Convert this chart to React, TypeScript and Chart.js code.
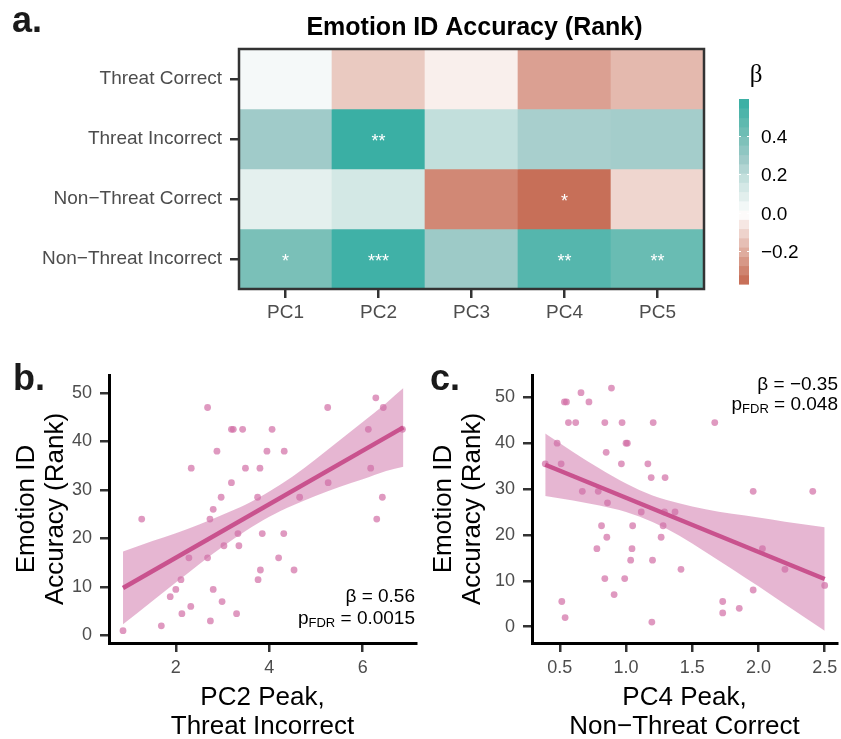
import React, { useEffect, useRef } from 'react';
import { Chart, registerables } from 'chart.js';

Chart.register(...registerables);

const FONT = '"Liberation Sans", Arial, Helvetica, sans-serif';
Chart.defaults.font.family = FONT;

// ---------- Panel a: heatmap data ----------
const pcLabels = ['PC1', 'PC2', 'PC3', 'PC4', 'PC5'];
const rowLabels = ['Threat Correct', 'Threat Incorrect', 'Non\u2212Threat Correct', 'Non\u2212Threat Incorrect'];
const betaThreatCorrect = [0.03, -0.13, -0.04, -0.23, -0.17];
const betaThreatIncorrect = [0.28, 0.58, 0.19, 0.26, 0.27];
const betaNonThreatCorrect = [0.08, 0.14, -0.29, -0.35, -0.1];
const betaNonThreatIncorrect = [0.39, 0.56, 0.29, 0.5, 0.44];
const starsThreatCorrect = ['', '', '', '', ''];
const starsThreatIncorrect = ['', '**', '', '', ''];
const starsNonThreatCorrect = ['', '', '', '*', ''];
const starsNonThreatIncorrect = ['*', '***', '', '**', '**'];
const legendTicks = [0.4, 0.2, 0, -0.2];
const legendMin = -0.372;
const legendMax = 0.594;

// ---------- Panel b data ----------
const bPeak = [0.87, 1.27, 1.69, 1.88, 2.0, 2.11, 2.13, 2.28, 2.32, 2.33, 2.68, 2.68, 2.73, 2.74, 2.8, 2.8, 2.88, 2.97, 2.99, 3.03, 3.19, 3.19, 3.23, 3.3, 3.33, 3.35, 3.43, 3.49, 3.75, 3.76, 3.8, 3.81, 3.85, 3.95, 4.06, 4.2, 4.31, 4.32, 4.53, 4.65, 5.25, 5.26, 6.12, 6.17, 6.28, 6.3, 6.42, 6.44, 6.85];
const bRank = [1, 24, 2, 8, 9.5, 11.5, 4.5, 16, 6, 34.5, 47, 16, 24, 3, 9.5, 26, 38, 28.5, 7, 18.5, 31.5, 42.5, 42.5, 4.5, 21, 18.5, 42.5, 34.5, 28.5, 11.5, 34.5, 13.5, 21, 38, 42.5, 16, 21, 38, 13.5, 28.5, 47, 31.5, 42.5, 34.5, 49, 24, 28.5, 47, 42.5];
const bFitX = [0.87, 6.87];
const bFitY = [9.8, 42.9];
const bBandX = [0.87, 1.5, 2.0, 2.5, 3.0, 3.5, 4.0, 4.5, 5.0, 5.5, 6.0, 6.5, 6.87];
const bBandLo = [2.3, 7.1, 10.9, 14.7, 18.3, 21.6, 24.5, 26.8, 28.8, 30.6, 32.2, 33.9, 34.8];
const bBandHi = [17.3, 19.5, 21.1, 22.9, 24.9, 27.0, 29.7, 32.8, 36.4, 40.2, 44.0, 47.9, 51.0];
const bXTicks = [2, 4, 6];

// ---------- Panel c data ----------
const cPeak = [0.39, 0.48, 0.51, 0.515, 0.54, 0.535, 0.55, 0.565, 0.62, 0.66, 0.67, 0.72, 0.78, 0.79, 0.815, 0.84, 0.84, 0.85, 0.855, 0.86, 0.89, 0.91, 0.965, 0.97, 0.99, 1.0, 1.01, 1.035, 1.045, 1.05, 1.115, 1.165, 1.19, 1.2, 1.195, 1.205, 1.265, 1.28, 1.29, 1.295, 1.37, 1.415, 1.67, 1.73, 1.73, 1.855, 1.96, 1.96, 2.03, 2.2, 2.41, 2.5];
const cRank = [35.5, 40, 35.5, 5.5, 2, 49, 49, 44.5, 44.5, 51, 29.5, 49, 17, 29.5, 22, 10.5, 44.5, 38, 19.5, 27, 52, 7, 35.5, 44.5, 10.5, 40, 40, 14.5, 17, 22, 25, 35.5, 32.5, 14.5, 1, 44.5, 19.5, 22, 25, 32.5, 25, 12.5, 44.5, 5.5, 3, 4, 29.5, 8, 17, 12.5, 29.5, 9];
const cFitX = [0.39, 2.5];
const cFitY = [35.3, 10.4];
const cBandX = [0.39, 0.6, 0.8, 1.0, 1.2, 1.4, 1.6, 1.8, 2.0, 2.2, 2.5];
const cBandLo = [28.5, 27.5, 26.4, 25.0, 22.8, 19.9, 16.3, 12.6, 8.8, 4.9, -0.9];
const cBandHi = [42.1, 38.1, 34.5, 31.2, 28.6, 26.9, 25.6, 24.6, 23.8, 22.9, 21.7];
const cXTicks = [0.5, 1.0, 1.5, 2.0, 2.5];
const yTicks = [0, 10, 20, 30, 40, 50];

// ---------- styles ----------
const colorStops: [number, number[]][] = [
  [-0.372, [196, 102, 78]],
  [0, [255, 255, 255]],
  [0.08, [228, 240, 238]],
  [0.16, [205, 229, 226]],
  [0.28, [160, 203, 201]],
  [0.39, [122, 192, 184]],
  [0.594, [53, 174, 163]],
];
function betaColor(v: number): string {
  if (v <= colorStops[0][0]) return `rgb(${colorStops[0][1].join(',')})`;
  for (let i = 1; i < colorStops.length; i++) {
    const [v1, c1] = colorStops[i];
    const [v0, c0] = colorStops[i - 1];
    if (v <= v1) {
      const t = (v - v0) / (v1 - v0);
      const c = c0.map((a, k) => Math.round(a + (c1[k] - a) * t));
      return `rgb(${c.join(',')})`;
    }
  }
  return `rgb(${colorStops[colorStops.length - 1][1].join(',')})`;
}
const fmtBeta = (v: number) => v.toFixed(1).replace('-', '\u2212');

const LINE = 'rgb(201,82,142)';
const BAND = 'rgba(205,110,165,0.5)';
const PT = 'rgba(210,110,165,0.7)';
const TICK_GRAY = '#4d4d4d';

// ---------- heatmap ----------
function heatmapConfig(): any {
  const rows = [betaThreatCorrect, betaThreatIncorrect, betaNonThreatCorrect, betaNonThreatIncorrect];
  const stars = [starsThreatCorrect, starsThreatIncorrect, starsNonThreatCorrect, starsNonThreatIncorrect];
  const datasets = rows.map((vals, r) => ({
    data: vals.map(() => [r - 0.5, r + 0.5]),
    backgroundColor: vals.map(betaColor),
    borderWidth: 0,
    barPercentage: 1,
    categoryPercentage: 1,
    grouped: false,
  }));
  const gridStyle = { drawOnChartArea: false, drawTicks: true, tickLength: 9, color: '#333', lineWidth: 2.5 };
  const plugin = {
    id: 'heatDecor',
    afterDraw(chart: any) {
      const { ctx, chartArea: a, scales } = chart;
      ctx.save();
      // stars
      ctx.fillStyle = '#ffffff';
      ctx.font = `18px ${FONT}`;
      ctx.textAlign = 'center';
      ctx.textBaseline = 'middle';
      stars.forEach((row, r) => row.forEach((s, c) => {
        if (!s) return;
        ctx.fillText(s, scales.x.getPixelForValue(c), scales.y.getPixelForValue(r) + 3);
      }));
      // border
      ctx.strokeStyle = '#333';
      ctx.lineWidth = 2.5;
      ctx.strokeRect(a.left, a.top, a.right - a.left, a.bottom - a.top);
      // title
      ctx.fillStyle = '#000';
      ctx.font = `bold 25px ${FONT}`;
      ctx.textAlign = 'center';
      ctx.textBaseline = 'alphabetic';
      ctx.fillText('Emotion ID Accuracy (Rank)', (a.left + a.right) / 2 + 3, 35);
      // panel letter
      ctx.textAlign = 'left';
      ctx.font = `bold 36px ${FONT}`;
      ctx.fillStyle = '#1a1a1a';
      ctx.fillText('a.', 12, 32);
      // colour bar
      const cbL = 739, cbR = 749, cbT = 99, cbB = 284;
      const yOf = (v: number) => cbB - (v - legendMin) / (legendMax - legendMin) * (cbB - cbT);
      const nbin = 20;
      for (let i = 0; i < nbin; i++) {
        const v0 = legendMin + (legendMax - legendMin) * i / nbin;
        const v1 = legendMin + (legendMax - legendMin) * (i + 1) / nbin;
        ctx.fillStyle = betaColor((v0 + v1) / 2);
        const y0 = yOf(v0), y1 = yOf(v1);
        ctx.fillRect(cbL, y1, cbR - cbL, y0 - y1 + 0.6);
      }
      ctx.strokeStyle = '#ffffff';
      ctx.lineWidth = 1;
      ctx.fillStyle = '#000';
      ctx.font = `19px ${FONT}`;
      ctx.textBaseline = 'middle';
      legendTicks.forEach((v) => {
        const y = Math.round(yOf(v)) + 0.5;
        ctx.beginPath();
        ctx.moveTo(cbL, y); ctx.lineTo(cbL + 2, y);
        ctx.moveTo(cbR - 2, y); ctx.lineTo(cbR, y);
        ctx.stroke();
        ctx.fillText(fmtBeta(v), 761, y + 1);
      });
      ctx.font = '25px "Liberation Serif", "DejaVu Serif", serif';
      ctx.textAlign = 'center';
      ctx.textBaseline = 'alphabetic';
      ctx.fillText('\u03b2', 756, 82);
      ctx.restore();
    },
  };
  return {
    type: 'bar',
    data: { labels: pcLabels, datasets },
    plugins: [plugin],
    options: {
      responsive: false,
      animation: false,
      events: [],
      layout: { padding: { left: 0, right: 137, top: 49, bottom: 0 } },
      plugins: { legend: { display: false }, tooltip: { enabled: false } },
      scales: {
        x: {
          type: 'category',
          offset: true,
          grid: { ...gridStyle, offset: false },
          border: { display: false },
          ticks: { font: { size: 19 }, color: TICK_GRAY, padding: 3 },
          afterFit: (s: any) => { s.height = 41; s.paddingLeft = 0; s.paddingRight = 0; },
        },
        y: {
          type: 'linear',
          min: -0.5,
          max: 3.5,
          reverse: true,
          afterBuildTicks: (s: any) => { s.ticks = rowLabels.map((_, i) => ({ value: i })); },
          grid: gridStyle,
          border: { display: false },
          ticks: { callback: (v: any) => rowLabels[Math.round(Number(v))], font: { size: 19 }, color: TICK_GRAY, padding: 8, autoSkip: false },
          afterFit: (s: any) => { s.width = 239; s.paddingTop = 0; s.paddingBottom = 0; },
        },
      },
    },
  };
}

// ---------- scatter panels ----------
type Panel = {
  letter: string; letterX: number;
  x: number[]; y: number[];
  fitX: number[]; fitY: number[];
  bandX: number[]; bandLo: number[]; bandHi: number[];
  xTicks: number[]; xFmt: (v: number) => string; xTitle: string[];
  xMin: number; xMax: number; yMin: number; yMax: number;
  yWidth: number; padRight: number; yTitlePad: number;
  beta: string; p: string; statRight: number; base1: number; base2: number;
};

const panelB: Panel = {
  letter: 'b.', letterX: 13,
  x: bPeak, y: bRank, fitX: bFitX, fitY: bFitY,
  bandX: bBandX, bandLo: bBandLo, bandHi: bBandHi,
  xTicks: bXTicks, xFmt: (v) => String(v), xTitle: ['PC2 Peak,', 'Threat Incorrect'],
  xMin: 0.57, xMax: 7.14, yMin: -1.55, yMax: 53.7,
  yWidth: 109, padRight: 4, yTitlePad: 13,
  beta: '0.56', p: '0.0015', statRight: 415, base1: 272, base2: 294,
};

const panelC: Panel = {
  letter: 'c.', letterX: 10,
  x: cPeak, y: cRank, fitX: cFitX, fitY: cFitY,
  bandX: cBandX, bandLo: cBandLo, bandHi: cBandHi,
  xTicks: cXTicks, xFmt: (v) => v.toFixed(1), xTitle: ['PC4 Peak,', 'Non\u2212Threat Correct'],
  xMin: 0.29, xMax: 2.593, yMin: -3.55, yMax: 54.86,
  yWidth: 112, padRight: 2, yTitlePad: 10,
  beta: '\u22120.35', p: '0.048', statRight: 418, base1: 60, base2: 80,
};

function scatterConfig(P: Panel): any {
  const gridStyle = { drawOnChartArea: false, drawTicks: true, tickLength: 9, color: '#333', lineWidth: 2.5 };
  const plugin = {
    id: 'scatterDecor',
    afterDraw(chart: any) {
      const { ctx } = chart;
      ctx.save();
      ctx.fillStyle = '#1a1a1a';
      ctx.font = `bold 36px ${FONT}`;
      ctx.textAlign = 'left';
      ctx.textBaseline = 'alphabetic';
      ctx.fillText(P.letter, P.letterX, 60);
      ctx.fillStyle = '#000';
      ctx.font = `19px ${FONT}`;
      const l1 = `\u03b2 = ${P.beta}`;
      ctx.fillText(l1, P.statRight - ctx.measureText(l1).width, P.base1);
      const main = ` = ${P.p}`;
      const wp = ctx.measureText('p').width;
      const wm = ctx.measureText(main).width;
      ctx.font = `13px ${FONT}`;
      const ws = ctx.measureText('FDR').width;
      const x0 = P.statRight - (wp + ws + wm);
      ctx.fillText('FDR', x0 + wp, P.base2 + 3);
      ctx.font = `19px ${FONT}`;
      ctx.fillText('p', x0, P.base2);
      ctx.fillText(main, x0 + wp + ws, P.base2);
      ctx.restore();
    },
  };
  return {
    type: 'scatter',
    data: {
      datasets: [
        { data: P.fitX.map((x, i) => ({ x, y: P.fitY[i] })), showLine: true, borderColor: LINE, borderWidth: 4.5, pointRadius: 0, fill: false },
        { data: P.bandX.map((x, i) => ({ x, y: P.bandHi[i] })), showLine: true, borderColor: 'rgba(0,0,0,0)', borderWidth: 0, pointRadius: 0, fill: 2, backgroundColor: BAND, cubicInterpolationMode: 'monotone' },
        { data: P.bandX.map((x, i) => ({ x, y: P.bandLo[i] })), showLine: true, borderColor: 'rgba(0,0,0,0)', borderWidth: 0, pointRadius: 0, fill: false, cubicInterpolationMode: 'monotone' },
        { data: P.x.map((x, i) => ({ x, y: P.y[i] })), showLine: false, pointRadius: 3.4, backgroundColor: PT, borderColor: PT, borderWidth: 0 },
      ],
    },
    plugins: [plugin],
    options: {
      responsive: false,
      animation: false,
      events: [],
      layout: { padding: { left: 0, right: P.padRight, top: 45, bottom: 0 } },
      plugins: { legend: { display: false }, tooltip: { enabled: false } },
      scales: {
        x: {
          type: 'linear',
          min: P.xMin,
          max: P.xMax,
          afterBuildTicks: (s: any) => { s.ticks = P.xTicks.map((v) => ({ value: v })); },
          ticks: { callback: (v: any) => P.xFmt(Number(v)), font: { size: 18 }, color: TICK_GRAY, padding: 5, autoSkip: false, maxRotation: 0 },
          grid: gridStyle,
          border: { display: true, color: '#000', width: 3 },
          title: { display: true, text: P.xTitle, color: '#000', font: { size: 26, lineHeight: 1.1 }, padding: { top: 0, bottom: -2 } },
          afterFit: (s: any) => { s.height = 96; s.paddingLeft = 0; s.paddingRight = 0; },
        },
        y: {
          type: 'linear',
          min: P.yMin,
          max: P.yMax,
          afterBuildTicks: (s: any) => { s.ticks = yTicks.map((v) => ({ value: v })); },
          ticks: { font: { size: 18 }, color: TICK_GRAY, padding: 8, autoSkip: false },
          grid: gridStyle,
          border: { display: true, color: '#000', width: 3 },
          title: { display: true, text: ['Emotion ID', 'Accuracy (Rank)'], color: '#000', font: { size: 26, lineHeight: 1.1 }, padding: { top: P.yTitlePad, bottom: 0 } },
          afterFit: (s: any) => { s.width = P.yWidth; s.paddingTop = 0; s.paddingBottom = 0; },
        },
      },
    },
  };
}

export default function App() {
  const aRef = useRef<HTMLCanvasElement>(null);
  const bRef = useRef<HTMLCanvasElement>(null);
  const cRef = useRef<HTMLCanvasElement>(null);
  useEffect(() => {
    const charts = [
      new Chart(aRef.current as HTMLCanvasElement, heatmapConfig()),
      new Chart(bRef.current as HTMLCanvasElement, scatterConfig(panelB)),
      new Chart(cRef.current as HTMLCanvasElement, scatterConfig(panelC)),
    ];
    return () => charts.forEach((c) => c.destroy());
  }, []);
  return (
    <div style={{ position: 'fixed', left: 0, top: 0, width: 841, height: 739, background: '#fff', overflow: 'hidden' }}>
      <canvas ref={aRef} width={841} height={330} style={{ position: 'absolute', left: 0, top: 0 }} />
      <canvas ref={bRef} width={420} height={409} style={{ position: 'absolute', left: 0, top: 330 }} />
      <canvas ref={cRef} width={421} height={409} style={{ position: 'absolute', left: 420, top: 330 }} />
    </div>
  );
}
